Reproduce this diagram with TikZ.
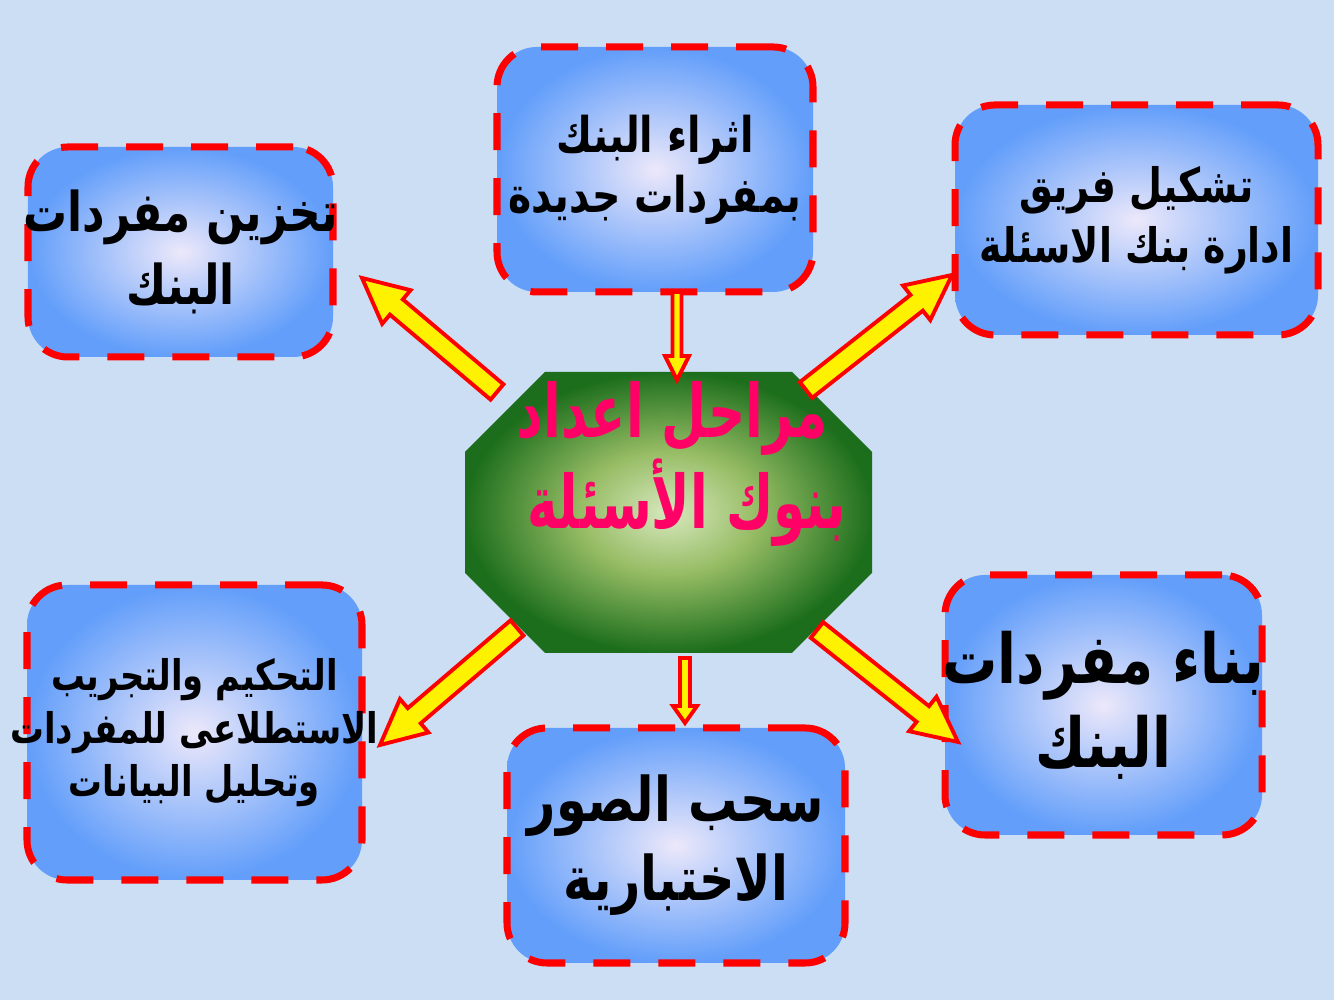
\documentclass[tikz,border=0pt]{standalone}
\usepackage{fontspec}
\usetikzlibrary{calc}
\TeXXeTstate=1
\newfontfamily\arabicfont[Script=Arabic,FakeStretch=0.8]{DejaVu Sans}
\newfontfamily\titlefont[Script=Arabic,FakeStretch=0.7]{DejaVu Sans}
\newcommand*\rl[1]{\beginR#1\endR}
\definecolor{bgblue}{RGB}{204,222,244}
\definecolor{boxin}{RGB}{236,232,250}
\definecolor{boxout}{RGB}{98,158,250}
\definecolor{octin}{RGB}{215,232,190}
\definecolor{octmid}{RGB}{150,188,100}
\definecolor{octout}{RGB}{28,110,28}
\definecolor{titlepink}{RGB}{255,0,102}
\pgfdeclareradialshading{octshade}{\pgfpoint{0bp}{0bp}}{color(0bp)=(octin);color(11bp)=(octmid);color(25bp)=(octout);color(50bp)=(octout)}
\newcommand*\blockarrow[5]{%
  \draw[barrow]let\p1=($(#2)!#5!(#1)$)in
    ($(#1)!#3!90:(#2)$)--($(\p1)!#3!90:(#2)$)--($(\p1)!#4!90:(#2)$)--(#2)
    --($(\p1)!#4!-90:(#2)$)--($(\p1)!#3!-90:(#2)$)--($(#1)!#3!-90:(#2)$)--cycle;}
\begin{document}
\begin{tikzpicture}
			\tikzstyle{box}=[rectangle,rounded corners=0.4cm,draw=red,line width=2pt,dash pattern=on 0.37cm off 0.28cm,inner color=boxin,outer color=boxout,align=center,inner sep=0pt];
			\tikzstyle{barrow}=[draw=red,fill=yellow,line width=1.1pt,line join=miter];
			\useasboundingbox(0,0)rectangle(13.34,10);
			\fill[bgblue](0,0)rectangle(13.34,10);
			\shade[shading=octshade](5.45,6.28)--(7.92,6.28)--(8.72,5.48)--(8.72,4.27)--(7.92,3.47)--(5.45,3.47)--(4.65,4.27)--(4.65,5.48)--cycle;
			\node[align=center,text=titlepink,inner sep=0pt,font=\titlefont\bfseries\fontsize{21}{23.5}\selectfont](oct)at(6.72,5.36){\rl{مراحل اعداد}\hspace{0.3cm}\\\hspace{0.3cm}\rl{بنوك الأسئلة}};
			\node[box,minimum width=3.05cm,minimum height=2.10cm,font=\arabicfont\bfseries\fontsize{15.6}{21}\selectfont](store)at(1.805,7.48){\makebox[2.8cm]{\rl{تخزين مفردات}}\\\rl{البنك}};
			\node[box,minimum width=3.16cm,minimum height=2.45cm,font=\arabicfont\bfseries\fontsize{14}{17}\selectfont](enrich)at(6.55,8.305){\rl{اثراء البنك}\\\rl{بمفردات جديدة}};
			\node[box,minimum width=3.63cm,minimum height=2.30cm,font=\arabicfont\bfseries\fontsize{13.5}{17}\selectfont](team)at(11.365,7.80){\rl{تشكيل فريق}\\\rl{ادارة بنك الاسئلة}};
			\node[box,minimum width=3.17cm,minimum height=2.60cm,font=\arabicfont\bfseries\fontsize{19.6}{24}\selectfont](build)at(11.035,2.95){\makebox[2.9cm]{\rl{بناء مفردات}}\\\rl{البنك}};
			\node[box,minimum width=3.38cm,minimum height=2.35cm,font=\arabicfont\bfseries\fontsize{17.5}{22.5}\selectfont](pull)at(6.76,1.545){\rl{سحب الصور}\\\rl{الاختبارية}};
			\node[box,minimum width=3.35cm,minimum height=2.95cm,font=\arabicfont\bfseries\fontsize{12}{15}\selectfont](pilot)at(1.945,2.675){\rl{التحكيم والتجريب}\\\makebox[3.1cm]{\rl{الاستطلاعى للمفردات}}\\\rl{وتحليل البيانات}};
			\coordinate(store-a)at(4.97,6.08);\coordinate(store-b)at(3.62,7.22);
			\coordinate(enrich-a)at(6.77,7.08);\coordinate(enrich-b)at(6.77,6.20);
			\coordinate(team-a)at(8.06,6.10);\coordinate(team-b)at(9.52,7.25);
			\coordinate(build-a)at(8.17,3.70);\coordinate(build-b)at(9.58,2.58);
			\coordinate(pull-a)at(6.85,3.42);\coordinate(pull-b)at(6.85,2.77);
			\coordinate(pilot-a)at(5.17,3.72);\coordinate(pilot-b)at(3.80,2.55);
			\blockarrow{store-a}{store-b}{0.1cm}{0.22cm}{0.45cm}
			\blockarrow{enrich-a}{enrich-b}{0.045cm}{0.12cm}{0.24cm}
			\blockarrow{team-a}{team-b}{0.1cm}{0.22cm}{0.45cm}
			\blockarrow{build-a}{build-b}{0.1cm}{0.22cm}{0.45cm}
			\blockarrow{pull-a}{pull-b}{0.05cm}{0.12cm}{0.17cm}
			\blockarrow{pilot-a}{pilot-b}{0.1cm}{0.22cm}{0.45cm}
		\end{tikzpicture}
\end{document}
